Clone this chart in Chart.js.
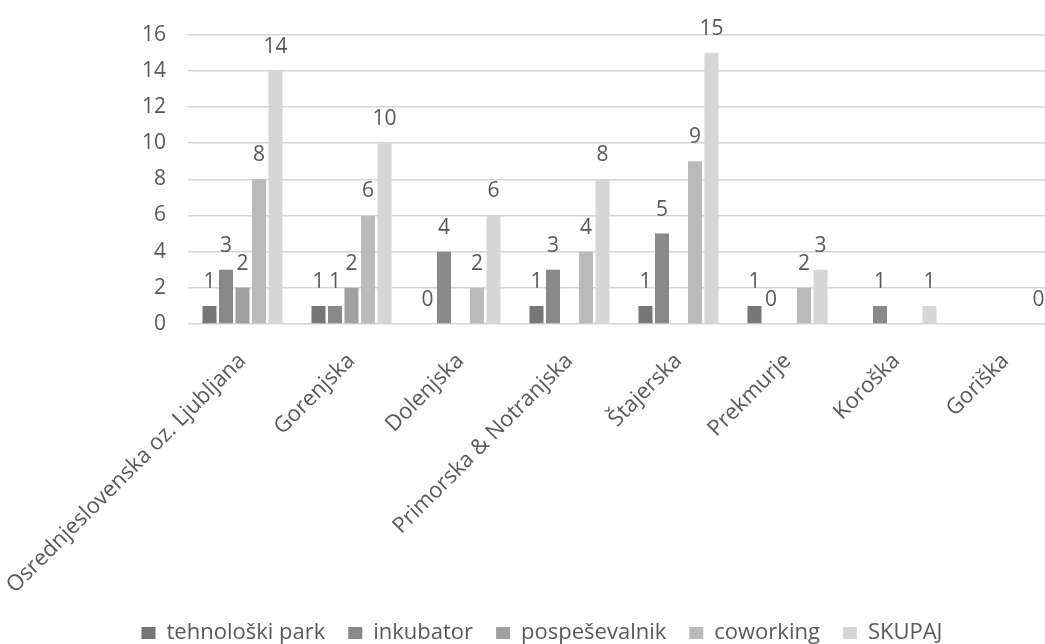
<!DOCTYPE html>
<html>
<head>
<meta charset="utf-8">
<script src="https://cdn.jsdelivr.net/npm/chart.js@4.4.1/dist/chart.umd.min.js"></script>
<style>
  html, body { margin: 0; padding: 0; background: #ffffff; overflow: hidden; }
  #wrap { position: relative; width: 1082px; height: 644px; }
</style>
</head>
<body>
<div id="wrap"><canvas id="c"></canvas></div>
<script>
const categories = ["Osrednjeslovenska oz. Ljubljana", "Gorenjska", "Dolenjska", "Primorska & Notranjska", "Štajerska", "Prekmurje", "Koroška", "Goriška"];
const seriesNames = ["tehnološki park", "inkubator", "pospeševalnik", "coworking", "SKUPAJ"];
const tehnoloskiPark = [1, 1, 0, 1, 1, 1, null, null];
const inkubator      = [3, 1, 4, 3, 5, 0, 1, null];
const pospesevalnik  = [2, 2, null, null, null, null, null, null];
const coworking      = [8, 6, 2, 4, 9, 2, null, null];
const skupaj         = [14, 10, 6, 8, 15, 3, 1, 0];
const yTicks = [0, 2, 4, 6, 8, 10, 12, 14, 16];

const seriesValues = [tehnoloskiPark, inkubator, pospesevalnik, coworking, skupaj];
const seriesColors = ["#767676", "#898989", "#a0a0a0", "#bababa", "#d6d6d6"];

const FONT = "'Open Sans', 'DejaVu Sans', sans-serif";
const TXT = "#595959";
const LEGEND_PAD = 23;
const LEGEND_FONT = 22;

const dataLabels = {
  id: "dataLabels",
  afterDatasetsDraw(chart) {
    const ctx = chart.ctx;
    ctx.save();
    ctx.font = "21px " + FONT;
    ctx.fillStyle = TXT;
    ctx.textAlign = "center";
    ctx.textBaseline = "alphabetic";
    chart.data.datasets.forEach((ds, i) => {
      const meta = chart.getDatasetMeta(i);
      meta.data.forEach((el, j) => {
        const v = ds.data[j];
        if (v === null || v === undefined) return;
        ctx.fillText(String(v), el.x, el.y - 18);
      });
    });
    ctx.restore();
  }
};

const legendPlacer = {
  id: "legendPlacer",
  afterLayout(chart) {
    const lg = chart.legend;
    if (!lg) return;
    const h = lg.height;
    const top = 633 - LEGEND_PAD - LEGEND_FONT / 2;
    lg.top = top;
    lg.bottom = top + h;
    lg.left += 12;
    lg.right += 12;
  }
};

new Chart(document.getElementById("c"), {
  type: "bar",
  data: {
    labels: categories,
    datasets: seriesNames.map((name, i) => ({
      label: name,
      data: seriesValues[i],
      backgroundColor: seriesColors[i],
      borderWidth: 0,
      categoryPercentage: 0.757,
      barPercentage: 0.85
    }))
  },
  options: {
    responsive: true,
    maintainAspectRatio: false,
    animation: false,
    devicePixelRatio: 1,
    layout: { padding: { top: 33, left: 0, right: 22, bottom: -33 } },
    plugins: {
      tooltip: { enabled: false },
      legend: {
        position: "bottom",
        labels: {
          font: { family: FONT, size: LEGEND_FONT },
          color: TXT,
          boxWidth: 14,
          boxHeight: 12,
          padding: LEGEND_PAD
        }
      }
    },
    scales: {
      x: {
        grid: { display: false, drawTicks: false },
        border: { display: false },
        ticks: {
          autoSkip: false,
          minRotation: 45,
          maxRotation: 45,
          padding: 24,
          color: TXT,
          font: { family: FONT, size: 22 }
        },
        afterFit(scale) {
          scale.height = 298;
          scale.paddingLeft = 0;
          scale.paddingRight = 0;
        }
      },
      y: {
        min: 0,
        max: 16,
        afterBuildTicks(scale) { scale.ticks = yTicks.map(v => ({ value: v })); },
        grid: { color: "#d6d6d6", lineWidth: 1.5, drawTicks: false },
        border: { display: false },
        ticks: {
          padding: 22,
          color: TXT,
          font: { family: FONT, size: 21 }
        },
        afterFit(scale) { scale.width = 188; }
      }
    }
  },
  plugins: [dataLabels, legendPlacer]
});
</script>
</body>
</html>
